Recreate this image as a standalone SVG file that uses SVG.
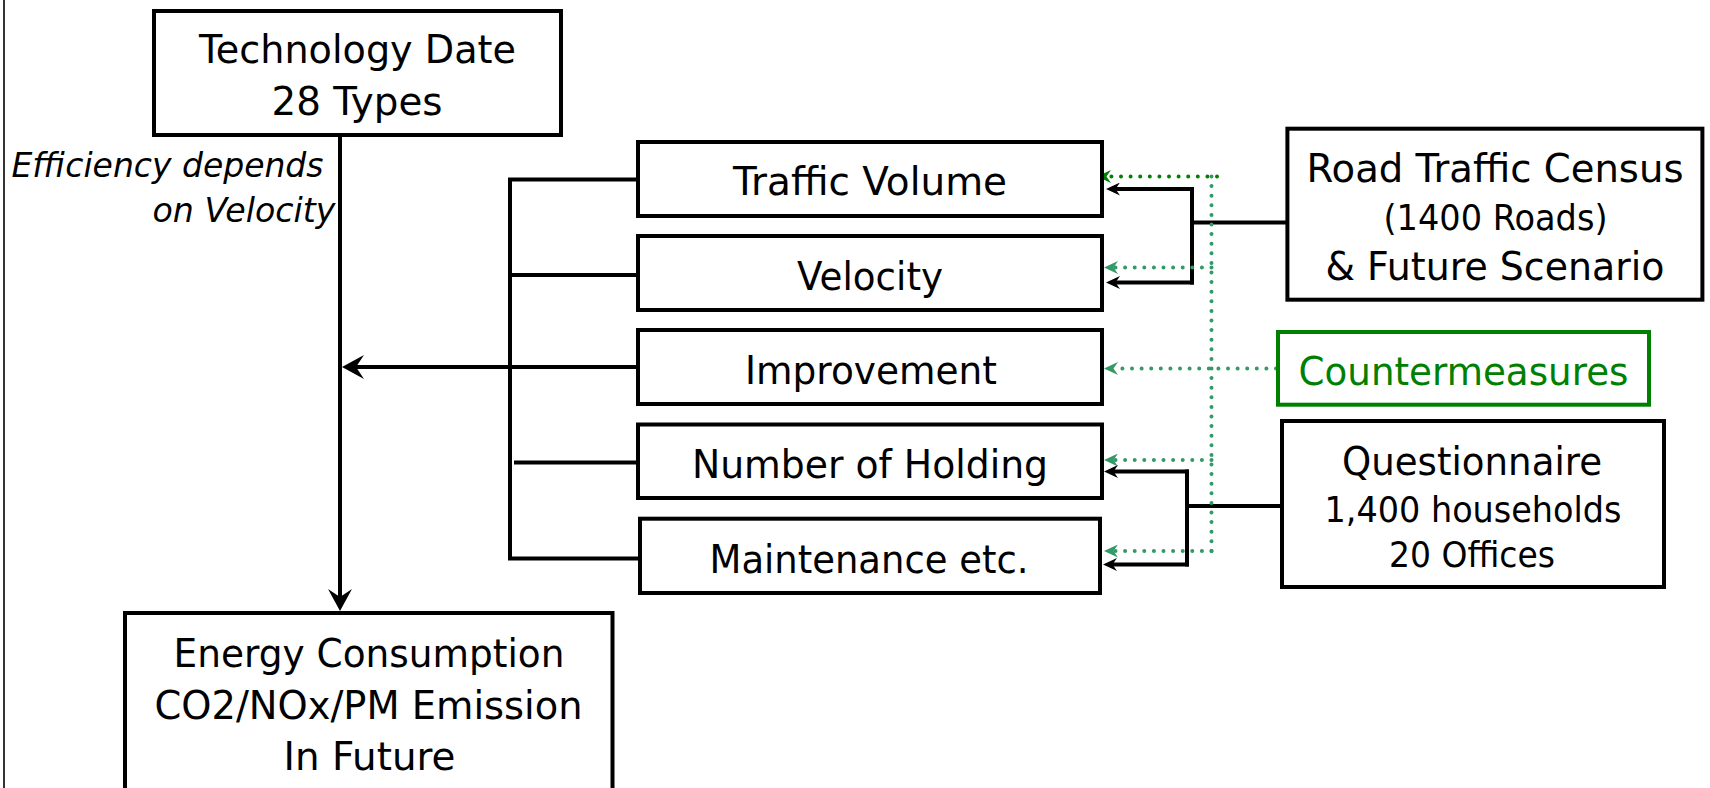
<svg xmlns="http://www.w3.org/2000/svg" width="1710" height="788" viewBox="0 0 1710 788">
<style>
.box{fill:#fff;stroke:#000;stroke-width:4}
.gbox{fill:#fff;stroke:#008000;stroke-width:4}
.t{font-family:"DejaVu Sans","Liberation Sans",sans-serif;font-size:39.5px;fill:#000;text-anchor:middle}
.s{font-size:35px}
.i{font-style:italic;font-size:33px}
.g{fill:#008000}
.ln{fill:none;stroke:#000;stroke-width:4}
.dg{fill:none;stroke:#008000;stroke-width:4;stroke-dasharray:0 9.6;stroke-linecap:round}
.dt{fill:none;stroke:#339966;stroke-width:4;stroke-dasharray:0 9.6;stroke-linecap:round}
</style>
<defs>
<marker id="big" markerUnits="userSpaceOnUse" viewBox="0 -12 22 24" refX="12" refY="0" markerWidth="22" markerHeight="24" orient="auto">
<path d="M0,-12 L22,0 L0,12 L8,0 Z" fill="#000"/>
</marker>
<marker id="sm" markerUnits="userSpaceOnUse" viewBox="0 -6.5 14 13" refX="5" refY="0" markerWidth="14" markerHeight="13" orient="auto">
<path d="M0,-6.5 L14,0 L0,6.5 L4.5,0 Z" fill="#000"/>
</marker>
<marker id="smg" markerUnits="userSpaceOnUse" viewBox="0 -6.5 14 13" refX="5" refY="0" markerWidth="14" markerHeight="13" orient="auto">
<path d="M0,-6.5 L14,0 L0,6.5 L4.5,0 Z" fill="#008000"/>
</marker>
<marker id="smt" markerUnits="userSpaceOnUse" viewBox="0 -6.5 14 13" refX="5" refY="0" markerWidth="14" markerHeight="13" orient="auto">
<path d="M0,-6.5 L14,0 L0,6.5 L4.5,0 Z" fill="#339966"/>
</marker>
</defs>
<rect width="1710" height="788" fill="#fff"/>
<line x1="4" y1="0" x2="4" y2="788" stroke="#333" stroke-width="2"/>

<g id="connectors">
<path class="ln" d="M340,135 V601" marker-end="url(#big)"/>
<path class="ln" d="M638,367 H352" marker-end="url(#big)"/>
<path class="ln" d="M638,179.5 H510 V558.5 H640"/>
<path class="ln" d="M510,275 H638"/>
<path class="ln" d="M514,462.5 H638"/>
<path class="ln" d="M1287,222.5 H1192"/>
<path class="ln" d="M1192,187 V284.5"/>
<path class="ln" d="M1194,189 H1115" marker-end="url(#sm)"/>
<path class="ln" d="M1194,282.5 H1115" marker-end="url(#sm)"/>
<path class="ln" d="M1282,506 H1187"/>
<path class="ln" d="M1187,469.5 V566.5"/>
<path class="ln" d="M1189,471.5 H1113" marker-end="url(#sm)"/>
<path class="ln" d="M1189,564.5 H1112" marker-end="url(#sm)"/>
<path class="dt" d="M1211.5,176.5 V551"/>
<path class="dg" d="M1217,176.5 H1106" marker-end="url(#smg)"/>
<path class="dt" d="M1211.5,267.5 H1113" marker-end="url(#smt)"/>
<path class="dt" d="M1276,368.5 H1113" marker-end="url(#smt)"/>
<path class="dt" d="M1211.5,460 H1113" marker-end="url(#smt)"/>
<path class="dt" d="M1211.5,551 H1113" marker-end="url(#smt)"/>
</g>

<g id="tech">
<rect class="box" x="154" y="11" width="407" height="124"/>
<text class="t" x="357.5" y="63" textLength="317" lengthAdjust="spacingAndGlyphs">Technology Date</text>
<text class="t" x="357" y="115" textLength="171" lengthAdjust="spacingAndGlyphs">28 Types</text>
</g>

<g id="note">
<text class="t i" x="167.5" y="176.5" textLength="312" lengthAdjust="spacingAndGlyphs">Efficiency depends</text>
<text class="t i" x="244" y="221.5" textLength="183" lengthAdjust="spacingAndGlyphs">on Velocity</text>
</g>

<g id="traffic-volume">
<rect class="box" x="638" y="142" width="464" height="74"/>
<text class="t" x="870" y="195" textLength="274" lengthAdjust="spacingAndGlyphs">Traffic Volume</text>
</g>
<g id="velocity">
<rect class="box" x="638" y="236" width="464" height="74"/>
<text class="t" x="870" y="289.5" textLength="146" lengthAdjust="spacingAndGlyphs">Velocity</text>
</g>
<g id="improvement">
<rect class="box" x="638" y="330" width="464" height="74"/>
<text class="t" x="871" y="383.5" textLength="252" lengthAdjust="spacingAndGlyphs">Improvement</text>
</g>
<g id="number-of-holding">
<rect class="box" x="638" y="424.5" width="464" height="73.5"/>
<text class="t" x="870" y="478" textLength="356" lengthAdjust="spacingAndGlyphs">Number of Holding</text>
</g>
<g id="maintenance">
<rect class="box" x="640" y="518.7" width="460" height="74.3"/>
<text class="t" x="869" y="572.5" textLength="319" lengthAdjust="spacingAndGlyphs">Maintenance etc.</text>
</g>

<g id="energy">
<rect class="box" x="125" y="613" width="487.5" height="200"/>
<text class="t" x="369" y="666.5" textLength="391" lengthAdjust="spacingAndGlyphs">Energy Consumption</text>
<text class="t" x="368.5" y="718.5" textLength="428" lengthAdjust="spacingAndGlyphs">CO2/NOx/PM Emission</text>
<text class="t" x="369.5" y="770" textLength="172" lengthAdjust="spacingAndGlyphs">In Future</text>
</g>

<g id="road-census">
<rect class="box" x="1287.4" y="128.7" width="415" height="171"/>
<text class="t" x="1495" y="181.5" textLength="377" lengthAdjust="spacingAndGlyphs">Road Traffic Census</text>
<text class="t s" x="1495.5" y="229.5" textLength="224" lengthAdjust="spacingAndGlyphs">(1400 Roads)</text>
<text class="t" x="1495" y="279.5" textLength="339" lengthAdjust="spacingAndGlyphs">&amp; Future Scenario</text>
</g>

<g id="countermeasures">
<rect class="gbox" x="1278" y="332" width="371" height="72.7"/>
<text class="t g" x="1463.5" y="385" textLength="330" lengthAdjust="spacingAndGlyphs">Countermeasures</text>
</g>

<g id="questionnaire">
<rect class="box" x="1282" y="421" width="382" height="166"/>
<text class="t" x="1472" y="475" textLength="260" lengthAdjust="spacingAndGlyphs">Questionnaire</text>
<text class="t s" x="1473" y="521.5" textLength="297" lengthAdjust="spacingAndGlyphs">1,400 households</text>
<text class="t s" x="1472" y="566.5" textLength="166" lengthAdjust="spacingAndGlyphs">20 Offices</text>
</g>
</svg>
